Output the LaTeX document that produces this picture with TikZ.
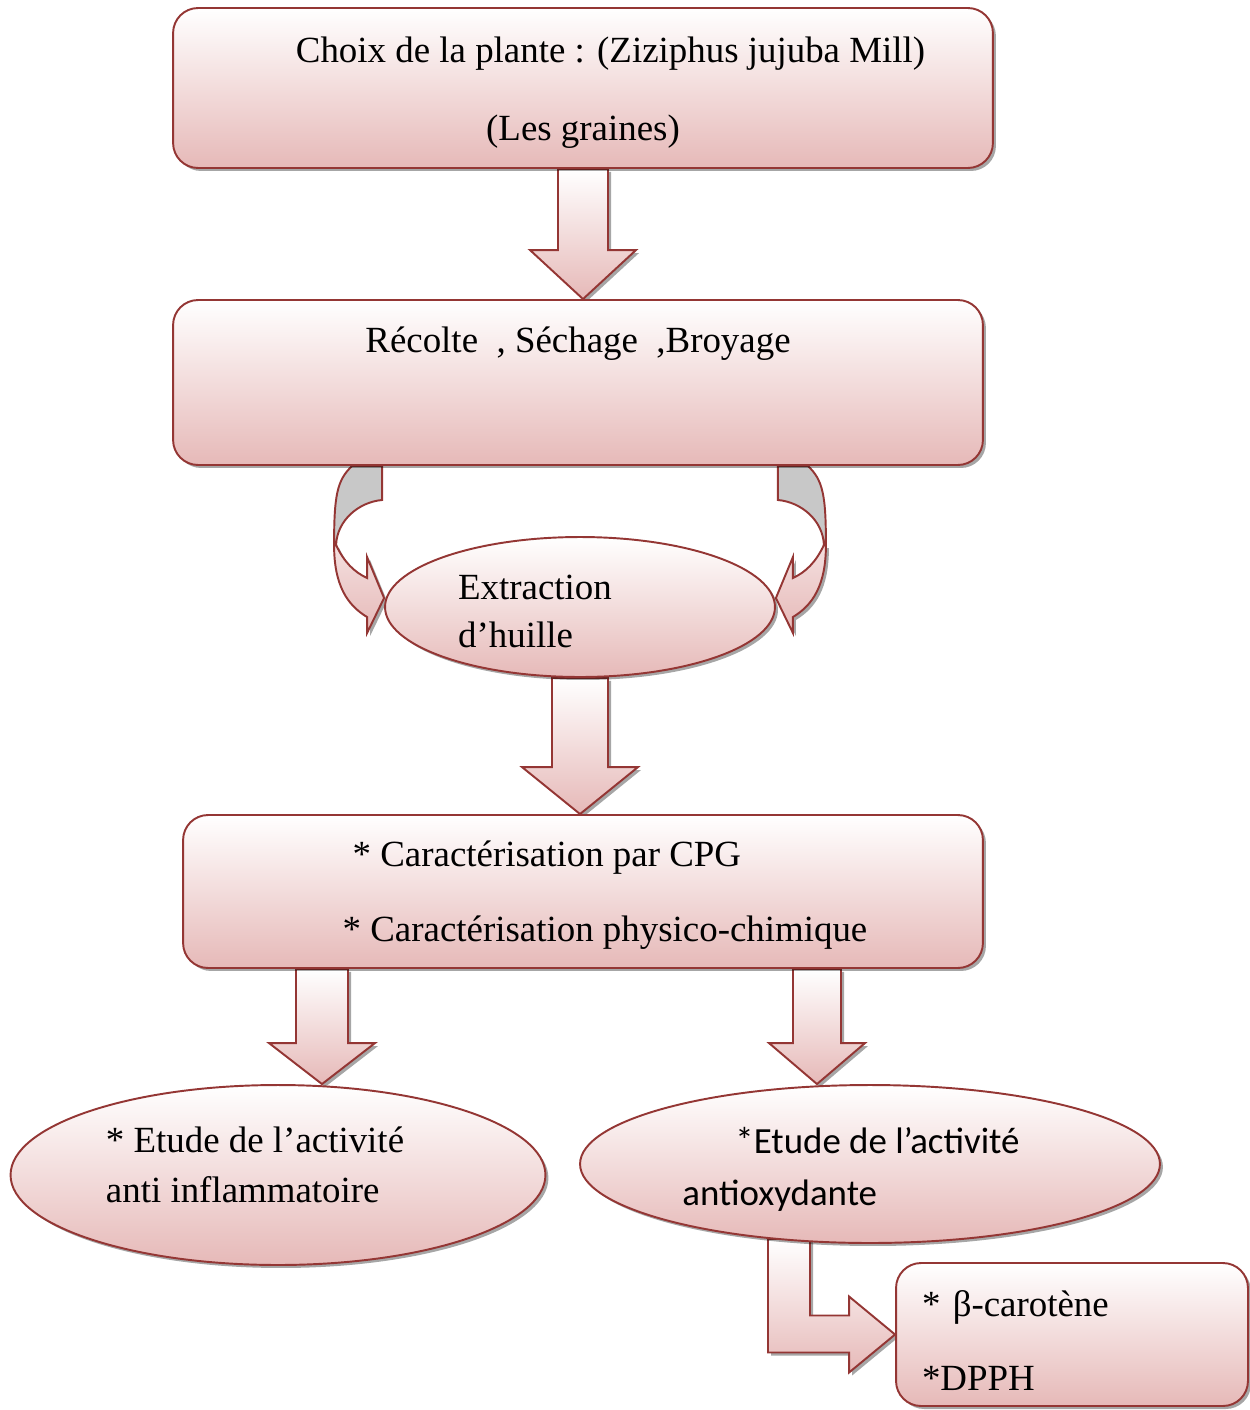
\documentclass[tikz,border=0pt]{standalone}
\usepackage{fontspec}
\setmainfont{Liberation Serif}
\newfontfamily\calibri{Carlito}
\usepackage{tikz}
\usetikzlibrary{shapes.geometric,shadows,calc}
\definecolor{rosered}{HTML}{943634}
\definecolor{rosepink}{HTML}{E6B9B8}
\definecolor{backgrey}{HTML}{C8C8C8}
\pgfdeclarelayer{behind}
\pgfsetlayers{behind,main}

% fat down arrow: start node, tip, half shaft, half head, head length
\newcommand{\blockdown}[5]{%
  \draw[fatarrow] ($(#2|-#1)+(-#3,0)$) -- ($(#2)+(-#3,-#5)$) -- ($(#2)+(-#4,-#5)$)
    -- (#2) -- ($(#2)+(#4,-#5)$) -- ($(#2)+(#3,-#5)$) -- ($(#2|-#1)+(#3,0)$) -- cycle;}
% struts to set the text lower or higher in its box
\newcommand{\uplift}[1]{\rule{0pt}{#1}}
\newcommand{\downlift}[1]{\rule[-#1]{0pt}{0.1cm}}

\begin{document}
\begin{tikzpicture}[x=0.02cm, y=-0.02cm, font=\fontsize{21}{25}\selectfont,
    softshadow/.style={drop shadow={shadow xshift=0.06cm, shadow yshift=-0.06cm,
                       fill=black, opacity=0.35}},
    roundbox/.style={rectangle, rounded corners=0.5cm, draw=rosered, line width=1.1pt,
                     top color=white, bottom color=rosepink, softshadow, inner sep=0.2cm},
    ovalbox/.style={ellipse, draw=rosered, line width=1.1pt, top color=white,
                    bottom color=rosepink, softshadow, inner sep=0pt, align=left},
    fatarrow/.style={draw=rosered, line width=1.1pt, top color=white,
                     bottom color=rosepink, softshadow, line join=miter},
    backface/.style={draw=rosered, line width=1.1pt, fill=backgrey}]
  \useasboundingbox (0,0) rectangle (1250,1410);

  % the steps
  \node[roundbox, minimum width=16.4cm, minimum height=3.2cm, align=center] (b1) at (583,88)
    {\uplift{0.71cm}\hspace*{1.1cm}Choix de la plante : (Ziziphus jujuba Mill)\\[0.68cm](Les graines)};
  \node[roundbox, minimum width=16.2cm, minimum height=3.3cm, text height=0.84cm,
        text depth=2.06cm, align=center] (b2) at (578,382.5)
    {Récolte\ \ , Séchage\ \ ,Broyage};
  \node[ovalbox, minimum width=7.8cm, minimum height=2.8cm] (ex) at (580,607)
    {\uplift{0.65cm}Extraction\hspace*{1.8cm}\\[0.08cm]d’huille};
  \node[roundbox, minimum width=16.0cm, minimum height=3.06cm, align=left] (b3) at (583,891.5)
    {\uplift{0.66cm}\hspace*{1.08cm}* Caractérisation par CPG\\[0.64cm]\hspace*{0.88cm}* Caractérisation physico-chimique};
  \node[ovalbox, minimum width=10.7cm, minimum height=3.6cm] (eL) at (278,1175)
    {* Etude de l’activité\hspace*{0.92cm}\\[0.12cm]anti inflammatoire\downlift{0.4cm}};
  \node[ovalbox, minimum width=11.6cm, minimum height=3.16cm,
        font=\fontsize{21}{25}\calibri] (eR) at (870,1164)
    {\uplift{0.73cm}\hspace*{1.06cm}*Etude de l’activité\hspace*{0.76cm}\\[0.16cm]antioxydante};
  \node[roundbox, text width=6cm, inner xsep=0.52cm, minimum height=2.86cm,
        align=left] (b4) at (1072,1334.5)
    {\uplift{0.76cm}* β-carotène\\[0.62cm]*DPPH};

  % arrow tips
  \coordinate (t1) at (b1.south |- b2.north);
  \coordinate (t2) at (ex.south |- b3.north);
  \coordinate (t3) at ($(eL.north)+(44,0)$);
  \coordinate (t4) at ($(eR.north)+(-53,0)$);
  \coordinate (s5) at ($(eR.south)+(-81,-5)$);

  \begin{pgfonlayer}{behind}
    \blockdown{b1.south}{t1}{25}{53}{49}
    \blockdown{ex.south}{t2}{28}{58}{47}
    \blockdown{b3.south}{t3}{26}{53}{41}
    \blockdown{b3.south}{t4}{24}{48}{41}
    % bent arrow to the tests
    \draw[fatarrow] ($(s5)+(-21,0)$) -- ($(s5|-b4.west)+(-21,18)$) -- ($(b4.west)+(-46,18)$)
      -- ($(b4.west)+(-46,38)$) -- (b4.west) -- ($(b4.west)+(-46,-38)$)
      -- ($(b4.west)+(-46,-19)$) -- ($(s5|-b4.west)+(21,-19)$) -- ($(s5)+(21,0)$) -- cycle;
    % curved arrows into the extraction
    \foreach \side/\flip in {west/1, east/-1}{
      \begin{scope}[shift={(ex.\side)}, xscale=\flip]
        \draw[backface] (-2,-141) -- (-2,-107) .. controls (-25,-105) and (-47,-87)
          .. (-48,-62) -- (-50,-62) .. controls (-50,-112) and (-47,-127) .. (-32,-141) -- cycle;
        \draw[fatarrow, top color=rosepink!45] (-48,-62) .. controls (-40,-45) and (-30,-35)
          .. (-17,-29) -- (-17,-50) -- (0,-9) -- (-17,26) -- (-17,10)
          .. controls (-37,-2) and (-50,-22) .. (-50,-62) -- cycle;
      \end{scope}}
  \end{pgfonlayer}
\end{tikzpicture}
\end{document}
